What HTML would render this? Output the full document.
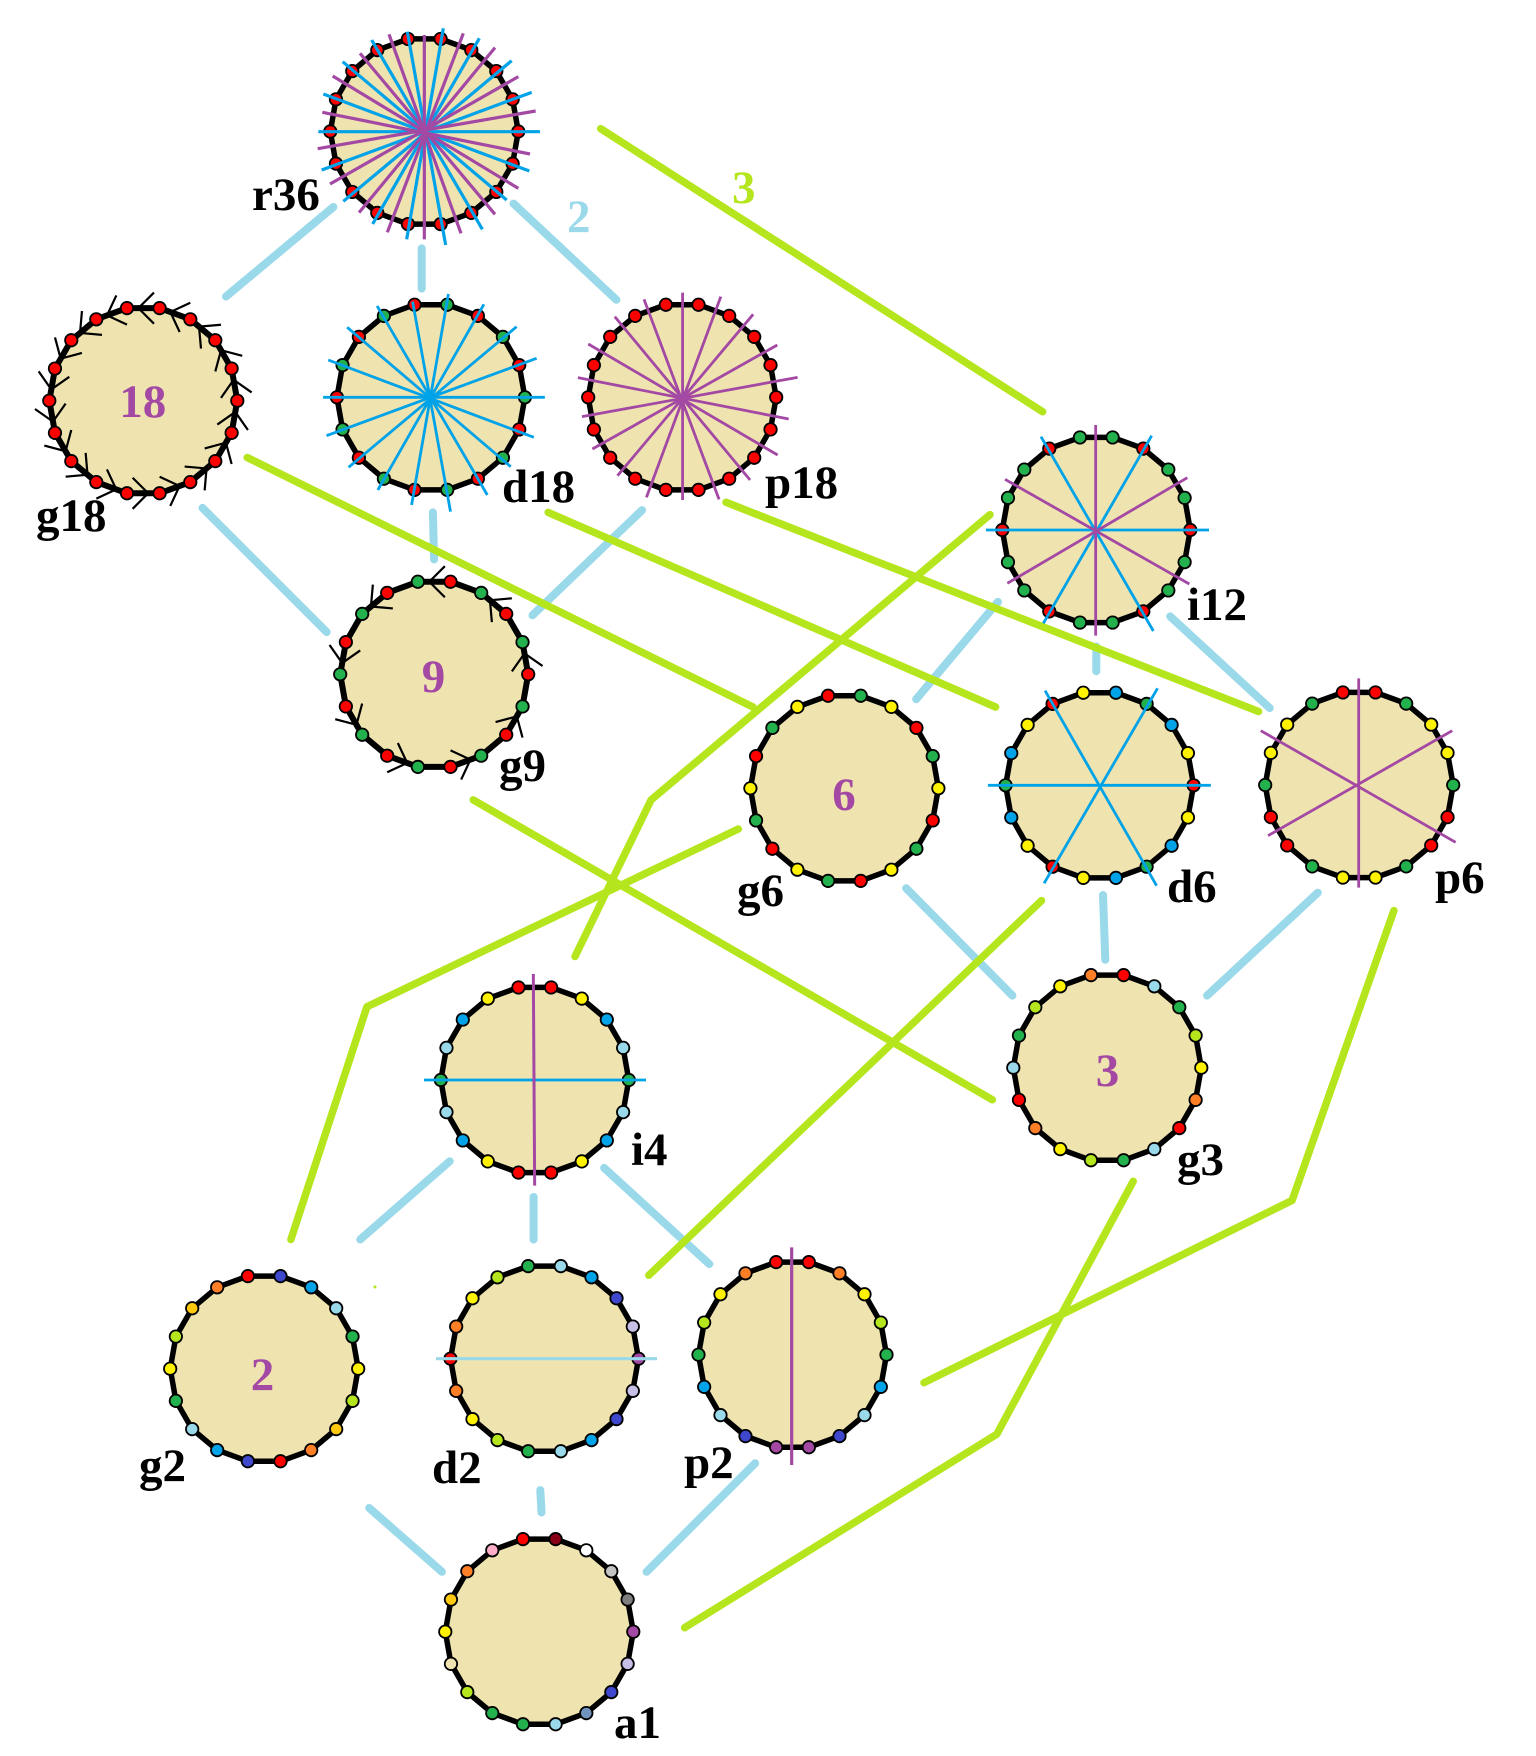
<!DOCTYPE html>
<html><head><meta charset="utf-8"><style>
html,body{margin:0;padding:0;background:#fff;width:1536px;height:1756px;overflow:hidden}
svg{display:block;position:absolute;left:0;top:0}
text{font-family:"Liberation Serif",serif;font-weight:bold;font-size:47px}
.k{fill:#000}.m{fill:#a349a4;font-size:47px}
</style></head><body>
<svg id="s" width="1536" height="1756" viewBox="0 0 1536 1756" xmlns="http://www.w3.org/2000/svg">
<g id="c"></g><g id="p"></g>
<g class="lab">
<text class="k" x="252" y="210">r36</text>
<text class="k" x="36" y="531">g18</text>
<text class="k" x="502" y="502">d18</text>
<text class="k" x="765" y="498">p18</text>
<text class="k" x="1187" y="620">i12</text>
<text class="k" x="499" y="781">g9</text>
<text class="k" x="737" y="906">g6</text>
<text class="k" x="1167" y="902">d6</text>
<text class="k" x="1435" y="893">p6</text>
<text class="k" x="1177" y="1175">g3</text>
<text class="k" x="631" y="1165">i4</text>
<text class="k" x="139" y="1481">g2</text>
<text class="k" x="432" y="1483">d2</text>
<text class="k" x="684" y="1478">p2</text>
<text class="k" x="614" y="1738">a1</text>
<text x="567" y="232" style="fill:#99d9ea">2</text>
<text x="732" y="203" style="fill:#b5e61d">3</text>
<text class="m" x="142.700" y="417" text-anchor="middle">18</text>
<text class="m" x="433.500" y="692" text-anchor="middle">9</text>
<text class="m" x="844" y="810" text-anchor="middle">6</text>
<text class="m" x="1107.500" y="1086" text-anchor="middle">3</text>
<text class="m" x="262.500" y="1390" text-anchor="middle">2</text>
</g>
</svg>
<script>
(function(){
var NS="http://www.w3.org/2000/svg",c=document.getElementById("c"),P=document.getElementById("p");
function el(par,n,a){var e=document.createElementNS(NS,n);for(var k in a)e.setAttribute(k,a[k]);par.appendChild(e);return e}
var Z=1.1187;
var sky=[[298,185,202,265],[377,222,377,258],[459,182,551,268],[181,454,292,565],[387,458,388,500],[574,456,476,550],[892,538,819,625],[980,578,980,600],[1046,551,1135,633],[810,794,905,890],[986,800,988,858],[1178,798,1079,890],[402,1038,322,1108],[477,1070,477,1108],[540,1044,634,1130],[330,1348,395,1405],[483,1332,484,1352],[675,1308,578,1405]];
var lime=[[537,115,932,368],[221,409,673,632],[490,458,890,632],[649,449,1125,636],[423,715,887,983],[885,460,582,715,514,855],[660,741,328,900,260,1108],[931,805,580,1140],[1246,814,1155,1073,826,1236],[1013,1056,891,1282,612,1455]];
function draw(a,col,w){a.forEach(function(l){var s=[];for(var i=0;i<l.length;i+=2)s.push((l[i]*Z).toFixed(1)+","+(l[i+1]*Z).toFixed(1));
el(c,"polyline",{points:s.join(" "),fill:"none",stroke:col,"stroke-width":w,"stroke-linecap":"round","stroke-linejoin":"round"})})}
draw(sky,"#99d9ea",8);draw(lime,"#b5e61d",7.5);
el(c,"circle",{cx:375,cy:1287,r:1.5,fill:"#b5e61d"});
var R="#ff0000",G="#22b14c",Y="#fff200",O="#ff7f27",D="#ffc90e",L="#b5e61d",S="#99d9ea",B="#00a2e8",I="#3f48cc",U="#a349a4",V="#c8bfe7",W="#ffffff",g="#c3c3c3",d="#7f7f7f",M="#880015",N="#ffaec9",T="#7092be",F="#efe4b0";
function rep(a){var o=[];for(var i=0;i<18;i++)o.push(a[i%a.length]);return o}
var BL="#00a2e8",PU="#a349a4";
function z3(ox,oy,a){return a.map(function(p){return [ox+p[0]/3,oy+p[1]/3,ox+p[2]/3,oy+p[3]/3]})}
function z9(ox,oy,a){return a.map(function(p){return [ox+p[0]/2.904,oy+p[1]/3,ox+p[2]/2.904,oy+p[3]/3]})}
function z10(ox,oy,a){return a.map(function(p){return [ox+p[0]/2.063,oy+p[1]/3,ox+p[2]/2.063,oy+p[3]/3]})}
var polys=[
{x:424.3,y:131.5,c:rep([R]),l:[[BL,3.2,z3(300,0,[[430,85,320,718],[538,115,218,672],[635,182,130,604],[695,277,65,510],[720,395,55,395],[688,513,70,282],[620,600,128,185],[547,688,215,120],[437,735,322,95]])],[PU,3.2,z3(300,0,[[373,105,373,718],[490,100,262,697],[585,143,177,638],[655,230,90,552],[707,333,53,446],[690,462,67,337],[655,565,98,228],[585,643,180,160],[483,700,267,103]])]]},
{x:143.3,y:400.7,c:rep([R]),ch:1},
{x:430.9,y:397.3,c:rep([G,R]),l:[[BL,2.8,z9(310,270,[[38,382,682,382],[53,270,650,502],[108,172,583,590],[195,108,515,675],[298,95,408,725],[402,72,295,705],[505,103,197,660],[600,170,112,592],[658,265,48,497]])]]},
{x:682.2,y:397.3,c:rep([R]),l:[[PU,2.8,z9(310,270,[[1082,68,1082,690],[1193,80,977,682],[1287,133,893,617],[1357,225,820,537],[1416,322,790,440],[1390,447,778,323],[1358,555,808,222],[1278,630,885,140],[1188,688,970,88]])]]},
{x:1096.3,y:530,c:rep([R,G,G]),l:[[BL,2.8,z3(980,410,[[18,360,687,360],[183,80,520,663],[515,77,190,640]])],[PU,2.8,z3(980,410,[[347,45,347,677],[75,208,628,522],[622,203,82,520]])]]},
{x:434.2,y:674.3,c:rep([R,G]),ch:2},
{x:844.4,y:788.3,c:rep([Y,G,R])},
{x:1099.6,y:785.3,c:[R,Y,B,G,B,Y,R,Y,B,G,B,Y,R,Y,B,G,B,Y],l:[[BL,2.8,z10(730,670,[[532,346,992,346],[650,62,880,647],[882,55,648,640]])]]},
{x:1359.2,y:785,c:[G,Y,Y,G,R,R,G,Y,Y,G,R,R,G,Y,Y,G,R,R],l:[[PU,2.8,z10(730,670,[[1297,25,1297,653],[1095,182,1497,517],[1490,182,1110,497]])]]},
{x:534.8,y:1080,c:[G,S,B,Y,R,R,Y,B,S,G,S,B,Y,R,R,Y,B,S],l:[[BL,2.8,z3(420,970,[[12,330,678,330]])],[PU,3,z3(420,970,[[340,12,344,647]])]]},
{x:1107.3,y:1067.7,c:rep([Y,L,G,S,R,O])},
{x:264.2,y:1368.7,c:rep([Y,G,S,B,I,R,O,D,L])},
{x:544.5,y:1358.7,c:[U,V,I,B,S,G,L,Y,O,R,O,Y,L,G,S,B,I,V],l:[[S,3.2,z3(420,1260,[[48,296,711,296]])]]},
{x:792.5,y:1354.7,c:[G,L,Y,O,R,R,O,Y,L,G,B,S,I,U,U,I,S,B],l:[[PU,3.2,z3(680,1250,[[335,-8,335,645]])]]},
{x:539.3,y:1631.7,c:[U,d,g,W,M,R,N,O,D,Y,F,L,G,G,S,T,I,V]}
];
var r=94;
polys.forEach(function(p){
 var v=[];for(var k=0;k<18;k++){var a=k*20*Math.PI/180;v.push([p.x+r*Math.cos(a),p.y-r*Math.sin(a)])}
 el(P,"polygon",{points:v.map(function(q){return q[0].toFixed(1)+","+q[1].toFixed(1)}).join(" "),fill:F,stroke:"#000","stroke-width":p.ch?6:5.5,"stroke-linejoin":"round"});
 if(p.ch){for(var k=0;k<18;k+=p.ch){
   var A=v[k],E=v[(k+1)%18],t=0.65,tx=A[0]+t*(E[0]-A[0]),ty=A[1]+t*(E[1]-A[1]);
   var ux=A[0]-E[0],uy=A[1]-E[1],n=Math.sqrt(ux*ux+uy*uy);ux/=n;uy/=n;
   var s=Math.SQRT1_2,len=22;
   var a1=[tx+len*(ux*s-uy*s),ty+len*(ux*s+uy*s)],a2=[tx+len*(ux*s+uy*s),ty+len*(-ux*s+uy*s)];
   el(P,"polyline",{points:a1.join(",")+" "+tx+","+ty+" "+a2.join(","),fill:"none",stroke:"#000","stroke-width":2.2});
 }}
 p.c.forEach(function(col,k){el(P,"circle",{cx:v[k][0],cy:v[k][1],r:6.2,fill:col,stroke:"#000","stroke-width":1.8})});
 if(p.l)p.l.forEach(function(g){g[2].forEach(function(q){el(P,"line",{x1:q[0],y1:q[1],x2:q[2],y2:q[3],stroke:g[0],"stroke-width":g[1]})})});
});
})();
</script>
</body></html>
